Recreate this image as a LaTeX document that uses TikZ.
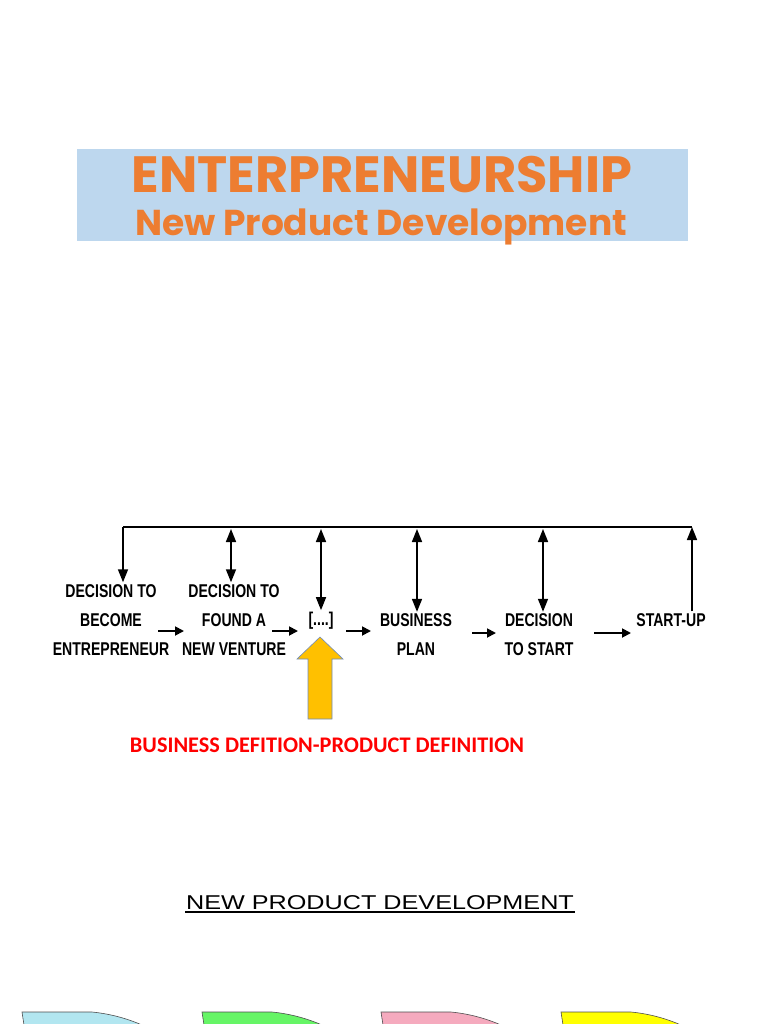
\documentclass[tikz,border=0pt]{standalone}
\usepackage{fontspec}
\usetikzlibrary{arrows.meta}
\newfontfamily\titlefont{Poppins}
\newfontfamily\diagfont[FakeStretch=0.76]{Liberation Sans}
\newfontfamily\redfont{Carlito}
\newfontfamily\arialfont[FakeStretch=1.26]{Liberation Sans}
\definecolor{titlebg}{RGB}{189,215,238}
\definecolor{titleor}{RGB}{237,125,49}
\definecolor{yarrow}{RGB}{255,192,0}
\definecolor{yedge}{RGB}{110,140,190}
\definecolor{sblue}{RGB}{178,230,240}
\definecolor{sgreen}{RGB}{102,245,102}
\definecolor{spink}{RGB}{245,170,190}
\definecolor{syellow}{RGB}{255,255,0}
\begin{document}
\begin{tikzpicture}[x=1pt,y=-1pt,
  lbl/.style={font=\diagfont\bfseries\fontsize{18.5}{29}\selectfont,align=center,inner sep=2pt},
  varrow/.style={line width=1.6pt,-{Triangle[length=13pt,width=10pt]}},
  darrow/.style={line width=1.6pt,{Triangle[length=13pt,width=10pt]}-{Triangle[length=13pt,width=10pt]}},
  harrow/.style={line width=1.8pt,-{Triangle[length=9pt,width=9pt]}},
  bshape/.style={draw=black!70,line width=0.6pt}]
\useasboundingbox (0,0) rectangle (768,1024);
% title
\fill[titlebg] (77,149) rectangle (688,241);
\node[font=\titlefont\bfseries\fontsize{51}{51}\selectfont,text=titleor,anchor=base,inner sep=0pt] (t1) at (382,193) {ENTERPRENEURSHIP};
\node[font=\titlefont\bfseries\fontsize{36}{36}\selectfont,text=titleor,anchor=base,inner sep=0pt] (t2) at (381,236) {New Product Development};
% diagram nodes
\node[lbl] (n1) at (111,620) {DECISION TO\\BECOME\\ENTREPRENEUR};
\node[lbl] (n2) at (234,620) {DECISION TO\\FOUND A\\NEW VENTURE};
\node[lbl] (n3) at (321,621) {[....]};
\node[lbl] (n4) at (416,635) {BUSINESS\\PLAN};
\node[lbl] (n5) at (539,635) {DECISION\\TO START};
\node[lbl] (n6) at (671,620) {START-UP};
% top line
\coordinate (tl) at (123,527);
\coordinate (tr) at (692,527);
\coordinate (c2) at (231,529);
\coordinate (c3) at (321,529);
\coordinate (c4) at (417,529);
\coordinate (c5) at (543,529);
\draw[line width=1.6pt] (tl) -- (tr);
\draw[varrow] (tl) -- (tl |- n1.north);
\draw[darrow] (c2) -- (c2 |- n2.north);
\draw[darrow] (c3) -- (c3 |- n3.north);
\draw[darrow] (c4) -- (c4 |- n4.north);
\draw[darrow] (c5) -- (c5 |- n5.north);
\draw[varrow] (tr |- n6.north) -- (tr);
% horizontal arrows
\coordinate (h1a) at (158,631); \coordinate (h1b) at (184,631);
\coordinate (h2a) at (272,631); \coordinate (h2b) at (298,631);
\coordinate (h3a) at (346,631); \coordinate (h3b) at (371,631);
\coordinate (h4a) at (472,633); \coordinate (h4b) at (496,633);
\coordinate (h5a) at (594,633); \coordinate (h5b) at (631,633);
\draw[harrow] (h1a) -- (h1b);
\draw[harrow] (h2a) -- (h2b);
\draw[harrow] (h3a) -- (h3b);
\draw[harrow] (h4a) -- (h4b);
\draw[harrow] (h5a) -- (h5b);
% yellow block arrow
\draw[fill=yarrow,draw=yedge,line width=0.6pt] (320,637) -- (343,659) -- (332,659) -- (332,719) -- (308,719) -- (308,659) -- (297,659) -- cycle;
% red text
\node[font=\redfont\bfseries\fontsize{22.3}{22.3}\selectfont,text=red] (r) at (327,745) {BUSINESS DEFITION-PRODUCT DEFINITION};
% NPD heading
\node[font=\arialfont\fontsize{20}{20}\selectfont,inner sep=0pt] (npd) at (380,903) {NEW PRODUCT DEVELOPMENT};
\draw[line width=1.2pt] (185,912) -- (575,912);
% bottom shapes
\foreach \dx/\col in {0/sblue,180/sgreen,359/spink,539/syellow}{
  \fill[\col] (22+\dx,1012) -- (92+\dx,1012) .. controls (112+\dx,1014) and (128+\dx,1019) .. (142+\dx,1025) -- (24+\dx,1025) -- cycle;
  \draw[bshape] (24+\dx,1025) -- (22+\dx,1012) -- (92+\dx,1012) .. controls (112+\dx,1014) and (128+\dx,1019) .. (142+\dx,1025);
}
\end{tikzpicture}
\end{document}
